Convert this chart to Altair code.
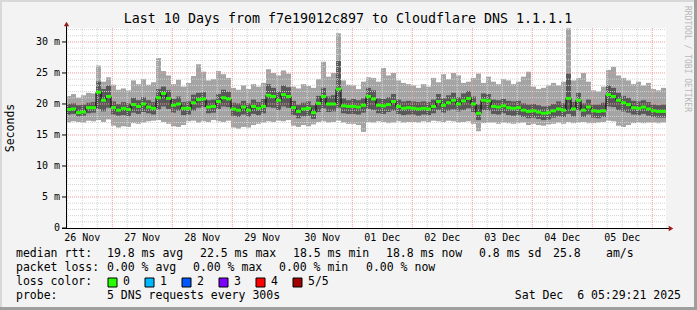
import altair as alt
import pandas as pd
from datetime import datetime, timedelta

FONT = "DejaVu Sans Mono"
TITLE = "Last 10 Days from f7e19012c897 to Cloudflare DNS 1.1.1.1"
START = datetime(2025, 11, 26, 5, 29, 21)
END = datetime(2025, 12, 6, 5, 29, 21)
STEP_HOURS = 2

# median rtt per 2-hour step (ms)
median_ms = [
    19.1, 19.2, 18.6, 18.7, 19.4, 19.4, 21.9, 20.6, 21.2,
    19.4, 19.0, 19.3, 19.1, 19.9, 19.6, 20.0, 19.5, 19.3, 21.0, 21.7, 20.9,
    19.8, 20.0, 19.3, 19.3, 20.2, 20.7, 20.8, 19.5, 19.6, 20.4, 21.0, 20.8,
    19.2, 19.0, 19.5, 19.0, 19.6, 19.3, 19.6, 21.4, 21.2, 20.6, 21.5, 21.2,
    19.4, 18.8, 19.2, 19.3, 18.6, 20.1, 21.2, 20.0, 20.0, 22.4, 19.7, 19.6,
    19.6, 19.5, 19.8, 21.2, 20.8, 19.8, 19.7, 19.9, 20.4, 19.6, 19.3, 19.4,
    19.3, 19.2, 19.3, 19.2, 19.6, 20.4, 19.8, 20.2, 20.6, 20.0, 20.5, 20.9,
    20.0, 18.5, 20.6, 20.5, 19.6, 19.5, 19.7, 19.4, 19.3, 19.4, 19.0, 18.8,
    18.9, 18.7, 18.5, 18.6, 18.9, 19.2, 19.0, 20.9, 19.2, 20.6, 19.0, 19.5,
    18.9, 18.8, 18.9, 21.5, 21.2, 20.6, 20.2, 19.9, 19.4, 19.3, 19.5, 19.2,
    18.9, 18.8, 18.8,
]
# 4th of 5 sorted pings (ms)
upper_ms = [
    20.0, 20.1, 19.8, 19.9, 20.2, 20.3, 23.6, 22.4, 23.0,
    20.4, 20.0, 20.3, 20.1, 21.0, 20.6, 21.1, 20.6, 20.3, 22.4, 22.8, 22.2,
    20.8, 21.2, 20.3, 20.4, 21.5, 21.8, 21.9, 20.6, 20.7, 21.6, 22.3, 22.0,
    20.2, 20.1, 20.5, 20.1, 20.7, 20.3, 20.8, 23.2, 22.6, 22.0, 23.0, 22.7,
    20.5, 19.9, 20.2, 20.4, 19.8, 21.3, 22.6, 21.2, 21.4, 27.0, 20.9, 20.6,
    20.8, 20.6, 20.9, 22.6, 22.2, 20.9, 20.8, 21.1, 21.6, 20.7, 20.4, 20.5,
    20.4, 20.3, 20.4, 20.3, 20.7, 21.6, 20.9, 21.4, 21.8, 21.1, 21.7, 22.1,
    21.2, 19.9, 21.7, 21.6, 20.7, 20.6, 20.8, 20.5, 20.4, 20.5, 20.1, 19.9,
    20.0, 19.8, 19.6, 19.7, 20.0, 20.4, 20.1, 24.9, 20.3, 21.8, 20.1, 20.7,
    19.9, 19.9, 20.2, 23.0, 22.6, 21.8, 21.3, 21.0, 20.5, 20.4, 20.6, 20.3,
    19.9, 19.8, 19.9,
]
# 2nd of 5 sorted pings (ms)
lower_ms = [
    18.3, 18.4, 18.0, 18.1, 18.5, 18.6, 19.2, 18.8, 19.4,
    18.3, 18.1, 18.2, 18.0, 18.6, 18.4, 18.7, 18.5, 18.3, 19.1, 19.6, 19.2,
    18.6, 18.9, 18.2, 18.3, 18.9, 19.4, 19.5, 18.5, 18.6, 19.2, 19.6, 19.5,
    18.1, 17.9, 18.3, 17.9, 18.4, 18.2, 18.5, 19.5, 19.4, 19.0, 19.6, 19.4,
    18.2, 17.7, 18.0, 18.1, 17.6, 18.7, 19.3, 18.7, 18.8, 19.4, 18.5, 18.4,
    18.4, 18.3, 18.6, 19.2, 19.0, 18.5, 18.4, 18.7, 18.9, 18.4, 18.2, 18.3,
    18.3, 18.1, 18.3, 18.2, 18.5, 19.0, 18.6, 18.9, 19.1, 18.8, 19.0, 19.3,
    18.7, 17.4, 19.0, 18.9, 18.4, 18.3, 18.5, 18.2, 18.1, 18.2, 17.9, 17.7,
    17.8, 17.6, 17.4, 17.5, 17.8, 18.0, 17.9, 18.4, 18.0, 18.9, 17.9, 18.3,
    17.8, 17.7, 17.9, 19.6, 19.5, 19.0, 18.8, 18.6, 18.3, 18.2, 18.4, 18.1,
    17.9, 17.8, 17.8,
]
# slowest ping (ms)
max_ms = [
    21.3, 21.6, 21.0, 21.4, 21.8, 21.7, 26.2, 23.6, 24.3,
    23.1, 22.3, 22.5, 22.2, 23.8, 23.2, 24.0, 23.1, 23.5, 27.4, 25.3, 24.6,
    23.2, 23.9, 22.8, 23.4, 24.5, 26.4, 25.2, 23.8, 24.0, 25.3, 24.8, 24.2,
    22.6, 22.3, 23.0, 22.4, 23.2, 22.8, 23.4, 25.6, 25.0, 24.6, 25.4, 24.9,
    22.8, 22.5, 23.2, 22.9, 22.6, 24.0, 26.8, 24.4, 25.0, 31.4, 23.8, 23.1,
    23.0, 22.4, 23.6, 24.3, 24.2, 23.6, 25.8, 24.6, 25.0, 23.8, 23.4, 23.2,
    23.0, 22.6, 23.2, 22.8, 24.2, 23.5, 24.8, 24.0, 25.0, 24.6, 23.4, 23.6,
    24.2, 24.9, 23.4, 24.4, 23.6, 23.2, 24.0, 23.8, 23.2, 23.6, 24.4, 25.2,
    22.8, 22.4, 22.6, 23.0, 23.4, 23.0, 23.6, 32.2, 23.8, 24.2, 25.0, 23.6,
    22.2, 22.0, 22.8, 25.5, 26.0, 24.6, 24.2, 23.8, 23.2, 23.6, 23.0, 23.4,
    22.4, 22.2, 22.6,
]
# fastest ping (ms)
min_ms = [
    17.0, 17.2, 17.1, 17.0, 17.3, 17.2, 17.4, 17.1, 17.5,
    16.5, 16.2, 16.4, 16.3, 16.9, 16.8, 17.0, 17.2, 17.3, 17.4, 17.1, 16.8,
    16.4, 16.3, 16.6, 17.2, 17.3, 17.0, 17.2, 17.1, 17.4, 17.2, 17.1, 17.3,
    16.2, 16.0, 16.3, 16.2, 16.6, 16.8, 17.0, 17.2, 17.1, 17.3, 17.2, 17.4,
    16.5, 16.3, 16.6, 16.4, 16.7, 17.1, 17.2, 17.0, 17.1, 17.3, 17.0, 16.8,
    16.8, 16.6, 15.5, 17.1, 17.0, 17.2, 17.1, 16.9, 17.0, 17.2, 17.0, 17.1,
    17.1, 17.0, 17.2, 17.1, 17.3, 17.2, 17.1, 17.3, 17.2, 17.0, 17.1, 17.2,
    16.8, 15.6, 16.9, 17.0, 17.0, 16.8, 17.0, 16.9, 16.8, 16.9, 17.0, 16.6,
    16.8, 16.6, 16.5, 16.7, 16.8, 17.0, 16.8, 17.1, 16.9, 17.0, 17.1, 16.9,
    16.9, 17.0, 17.1, 17.3, 17.2, 16.5, 16.3, 16.6, 16.9, 17.0, 16.9, 17.0,
    17.0, 16.9, 17.0,
]

day_labels = ["26 Nov", "27 Nov", "28 Nov", "29 Nov", "30 Nov",
              "01 Dec", "02 Dec", "03 Dec", "04 Dec", "05 Dec"]
y_tick_values = [0, 5, 10, 15, 20, 25, 30]
y_tick_labels = ["0\u00a0\u00a0", "5 m", "10 m", "15 m", "20 m", "25 m", "30 m"]

loss_names = ["0", "1", "2", "3", "4", "5/5"]
loss_colors = ["#26ff00", "#00b8ff", "#0059ff", "#7e00ff", "#ff0000", "#a00000"]

legend_row1 = [("median rtt:", 16), ("19.8 ms avg", 107), ("22.5 ms max", 200),
               ("18.5 ms min", 293), ("18.8 ms now", 386), ("0.8 ms sd", 479),
               ("25.8", 553), ("am/s", 606)]
legend_row2 = [("packet loss:", 16), ("0.00 % avg", 107), ("0.00 % max", 193),
               ("0.00 % min", 279), ("0.00 % now", 366)]
probe_text = "5 DNS requests every 300s"
stamp_text = "Sat Dec\u00a0 6 05:29:21 2025"

n = len(median_ms)
assert all(len(a) == n for a in [upper_ms, lower_ms, max_ms, min_ms])

TOTAL_H = (END - START).total_seconds() / 3600.0
PADL, PADT = 66, 28
W, H = 600, 200


def hours(dt):
    return (dt - START).total_seconds() / 3600.0


df = pd.DataFrame({
    "h0": [k * STEP_HOURS for k in range(n)],
    "h1": [min((k + 1) * STEP_HOURS, TOTAL_H) for k in range(n)],
    "lo": min_ms, "q1": lower_ms, "med": median_ms, "q3": upper_ms, "hi": max_ms,
})
line_df = pd.DataFrame({"h": list(df["h0"]) + [TOTAL_H],
                        "med": median_ms + [median_ms[-1]]})

xs = alt.Scale(domain=[0, TOTAL_H], nice=False, zero=False)
ys = alt.Scale(domain=[0, 32.25], nice=False, zero=False)

midnights = [hours(datetime(2025, 11, 27) + timedelta(days=i)) for i in range(10)]
minor_v = []
t = datetime(2025, 11, 26, 6)
while t < END:
    if t.hour != 0:
        minor_v.append(hours(t))
    t += timedelta(hours=6)
noons = [hours(datetime(2025, 11, 26, 12) + timedelta(days=i)) for i in range(len(day_labels))]
major_y = [5, 10, 15, 20, 25, 30]
minor_y = [v for v in range(1, 33) if v % 5 != 0]

light = alt.Chart(df).mark_rect(color="#a4a4a4").encode(
    x=alt.X("h0:Q", scale=xs, axis=None), x2="h1",
    y=alt.Y("lo:Q", scale=ys, axis=None), y2="hi")
dark = alt.Chart(df).mark_rect(color="#585858").encode(
    x=alt.X("h0:Q", scale=xs, axis=None), x2="h1",
    y=alt.Y("q1:Q", scale=ys, axis=None), y2="q3")

grid_minor_h = alt.Chart(pd.DataFrame({"v": minor_y})).mark_rule(
    color="#d4d4d4", strokeDash=[1, 1], strokeWidth=1).encode(
    y=alt.Y("v:Q", scale=ys, axis=None), x=alt.value(0), x2=alt.value(W))
grid_minor_v = alt.Chart(pd.DataFrame({"h": minor_v})).mark_rule(
    color="#d4d4d4", strokeDash=[1, 1], strokeWidth=1).encode(
    x=alt.X("h:Q", scale=xs, axis=None), y=alt.value(0), y2=alt.value(H))
grid_major_h = alt.Chart(pd.DataFrame({"v": major_y})).mark_rule(
    color="#f39a9a", strokeDash=[1, 1], strokeWidth=1).encode(
    y=alt.Y("v:Q", scale=ys, axis=None), x=alt.value(0), x2=alt.value(W))
grid_major_v = alt.Chart(pd.DataFrame({"h": midnights})).mark_rule(
    color="#f39a9a", strokeDash=[1, 1], strokeWidth=1).encode(
    x=alt.X("h:Q", scale=xs, axis=None), y=alt.value(0), y2=alt.value(H))

med_line = alt.Chart(line_df).mark_line(interpolate="step-after", color="#000000",
                                        strokeWidth=1).encode(
    x=alt.X("h:Q", scale=xs, axis=None), y=alt.Y("med:Q", scale=ys, axis=None))
med_green = alt.Chart(df).mark_rule(color="#26ff00", strokeWidth=3, strokeCap="butt").encode(
    x=alt.X("h0:Q", scale=xs, axis=None), x2="h1", y=alt.Y("med:Q", scale=ys, axis=None))

ylab = alt.Chart(pd.DataFrame({"v": y_tick_values, "t": y_tick_labels})).mark_text(
    align="right", baseline="middle", font=FONT, fontSize=10, color="#000000").encode(
    y=alt.Y("v:Q", scale=ys, axis=None), x=alt.value(60 - PADL), text="t:N")
yticks = alt.Chart(pd.DataFrame({"v": y_tick_values})).mark_rule(color="#000000").encode(
    y=alt.Y("v:Q", scale=ys, axis=None), x=alt.value(-4), x2=alt.value(0))
xlab = alt.Chart(pd.DataFrame({"h": noons, "t": day_labels})).mark_text(
    align="center", baseline="middle", font=FONT, fontSize=10, color="#000000").encode(
    x=alt.X("h:Q", scale=xs, axis=None), y=alt.value(238 - PADT), text="t:N")


def one():
    return pd.DataFrame({"k": [0]})


def text(s, x, y, size=11.5, align="left", angle=0, color="#000000"):
    return alt.Chart(pd.DataFrame({"t": [s]})).mark_text(
        align=align, baseline="middle", font=FONT, fontSize=size, color=color,
        angle=angle).encode(text="t:N", x=alt.value(x - PADL), y=alt.value(y - PADT))


def rule(x1, y1, x2, y2, color, width=1):
    return alt.Chart(one()).mark_rule(color=color, strokeWidth=width, strokeCap="butt").encode(
        x=alt.value(x1 - PADL), x2=alt.value(x2 - PADL),
        y=alt.value(y1 - PADT), y2=alt.value(y2 - PADT))


def box(x, y, color):
    return alt.Chart(one()).mark_rect(color=color, stroke="#000000", strokeWidth=1).encode(
        x=alt.value(x - PADL), x2=alt.value(x + 9 - PADL),
        y=alt.value(y - PADT), y2=alt.value(y + 9 - PADT))


def arrow(x, y, shape):
    return alt.Chart(one()).mark_point(shape=shape, filled=True, size=28, color="#9b1b1b",
                                       opacity=1, strokeWidth=0).encode(
        x=alt.value(x - PADL), y=alt.value(y - PADT))


layers = [light, dark, grid_minor_h, grid_minor_v, grid_major_h, grid_major_v,
          med_line, med_green,
          rule(66.5, 228, 66.5, 25, "#000000"),
          rule(62, 228.5, 670, 228.5, "#000000"),
          arrow(66.5, 24, "triangle-up"), arrow(671, 228.5, "triangle-right"),
          yticks, ylab, xlab,
          text(TITLE, 348, 19, size=13.3, align="center"),
          text("Seconds", 11, 128, size=11.5, align="center", angle=270),
          text("RRDTOOL / TOBI OETIKER", 687, 59, size=8, align="center", angle=90,
               color="#b8b8b8")]

for s, x in legend_row1:
    layers.append(text(s, x, 254))
for s, x in legend_row2:
    layers.append(text(s, x, 268))
layers.append(text("loss color:", 16, 282))
for i, (nm, col) in enumerate(zip(loss_names, loss_colors)):
    bx = 108 + 37 * i
    layers.append(box(bx, 278, col))
    layers.append(text(nm, bx + 15, 282))
layers.append(text("probe:", 16, 296))
layers.append(text(probe_text, 107, 296))
layers.append(text(stamp_text, 681, 296, align="right"))

# frame
layers += [rule(0, 1, 697, 1, "#d8d8d8", 2), rule(1, 0, 1, 310, "#d8d8d8", 2),
           rule(0, 308.5, 697, 308.5, "#9e9e9e", 3), rule(695.5, 0, 695.5, 310, "#9e9e9e", 3)]

chart = alt.layer(*layers).properties(
    width=W, height=H,
    padding={"left": PADL, "top": PADT, "right": 697 - PADL - W, "bottom": 310 - PADT - H},
    autosize=alt.AutoSizeParams(type="none"),
    background="#f3f3f3",
).configure_view(fill="white", stroke=None)

chart.save("out.html", embed_options={"renderer": "svg", "actions": False})
